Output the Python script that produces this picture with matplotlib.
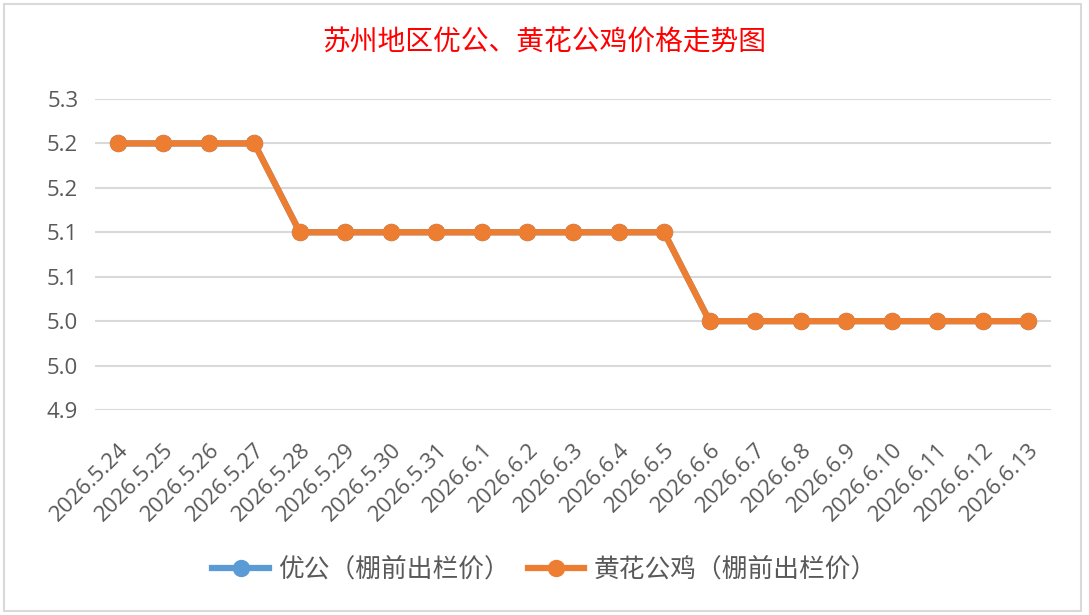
import matplotlib
matplotlib.use("Agg")
import matplotlib.pyplot as plt
from matplotlib.patches import Rectangle

plt.rcParams['font.family'] = ['Open Sans', 'Noto Sans CJK SC', 'DejaVu Sans']

# datos
fechas = ["2026.5.24", "2026.5.25", "2026.5.26", "2026.5.27", "2026.5.28", "2026.5.29",
          "2026.5.30", "2026.5.31", "2026.6.1", "2026.6.2", "2026.6.3", "2026.6.4",
          "2026.6.5", "2026.6.6", "2026.6.7", "2026.6.8", "2026.6.9", "2026.6.10",
          "2026.6.11", "2026.6.12", "2026.6.13"]
youg = [5.20, 5.20, 5.20, 5.20, 5.10, 5.10, 5.10, 5.10, 5.10, 5.10, 5.10, 5.10,
        5.10, 5.00, 5.00, 5.00, 5.00, 5.00, 5.00, 5.00, 5.00]
huanghua = [5.20, 5.20, 5.20, 5.20, 5.10, 5.10, 5.10, 5.10, 5.10, 5.10, 5.10, 5.10,
            5.10, 5.00, 5.00, 5.00, 5.00, 5.00, 5.00, 5.00, 5.00]
yticks = [4.90, 4.95, 5.00, 5.05, 5.10, 5.15, 5.20, 5.25]

fig = plt.figure(figsize=(10.89, 6.15), dpi=100)
marco = Rectangle((4/1089, 1 - 611/615), 1077/1089, 607/615,
                  transform=fig.transFigure, facecolor='white',
                  edgecolor='#D9D9D9', linewidth=1.5, zorder=-10)
fig.patches.append(marco)
ax = fig.add_axes([95/1089, 1 - 410/615, 956/1089, 311/615])
ax.set_facecolor('none')

x = range(len(fechas))
ax.plot(x, youg, color='#5B9BD5', linewidth=4.5, marker='o', markersize=11.5,
        label='优公（棚前出栏价）', zorder=3)
ax.plot(x, huanghua, color='#ED7D31', linewidth=4.5, marker='o', markersize=11.5,
        label='黄花公鸡（棚前出栏价）', zorder=4)

ax.set_xlim(-0.5, len(fechas) - 0.5)
ax.set_ylim(4.90, 5.25)
ax.set_yticks(yticks)
ax.set_yticklabels(['%.1f' % (v + 1e-9) for v in yticks])
ax.yaxis.grid(True, color='#D9D9D9', linewidth=1.5)
ax.set_axisbelow(True)
for s in ['top', 'right', 'left', 'bottom']:
    ax.spines[s].set_visible(False)
ax.tick_params(axis='both', length=0, colors='#595959', labelsize=16)
ax.tick_params(axis='y', pad=12)
ax.tick_params(axis='x', pad=21)
ax.set_xticks(list(x))
ax.set_xticklabels(fechas, rotation=45, ha='right', rotation_mode='anchor')

fig.text(0.5, 1 - 43/615, '苏州地区优公、黄花公鸡价格走势图', color='red', fontsize=20,
         ha='center', va='center', family=['Noto Sans CJK SC'], weight='medium')

leg = fig.legend(loc='center', bbox_to_anchor=(0.5, 1 - 570/615), ncol=2, frameon=False,
                 handlelength=2.2, columnspacing=0.7, handletextpad=0.35,
                 prop={'family': ['Noto Sans CJK SC'], 'size': 18.5})
for t in leg.get_texts():
    t.set_color('#595959')

fig.savefig('out.png', dpi=100)
